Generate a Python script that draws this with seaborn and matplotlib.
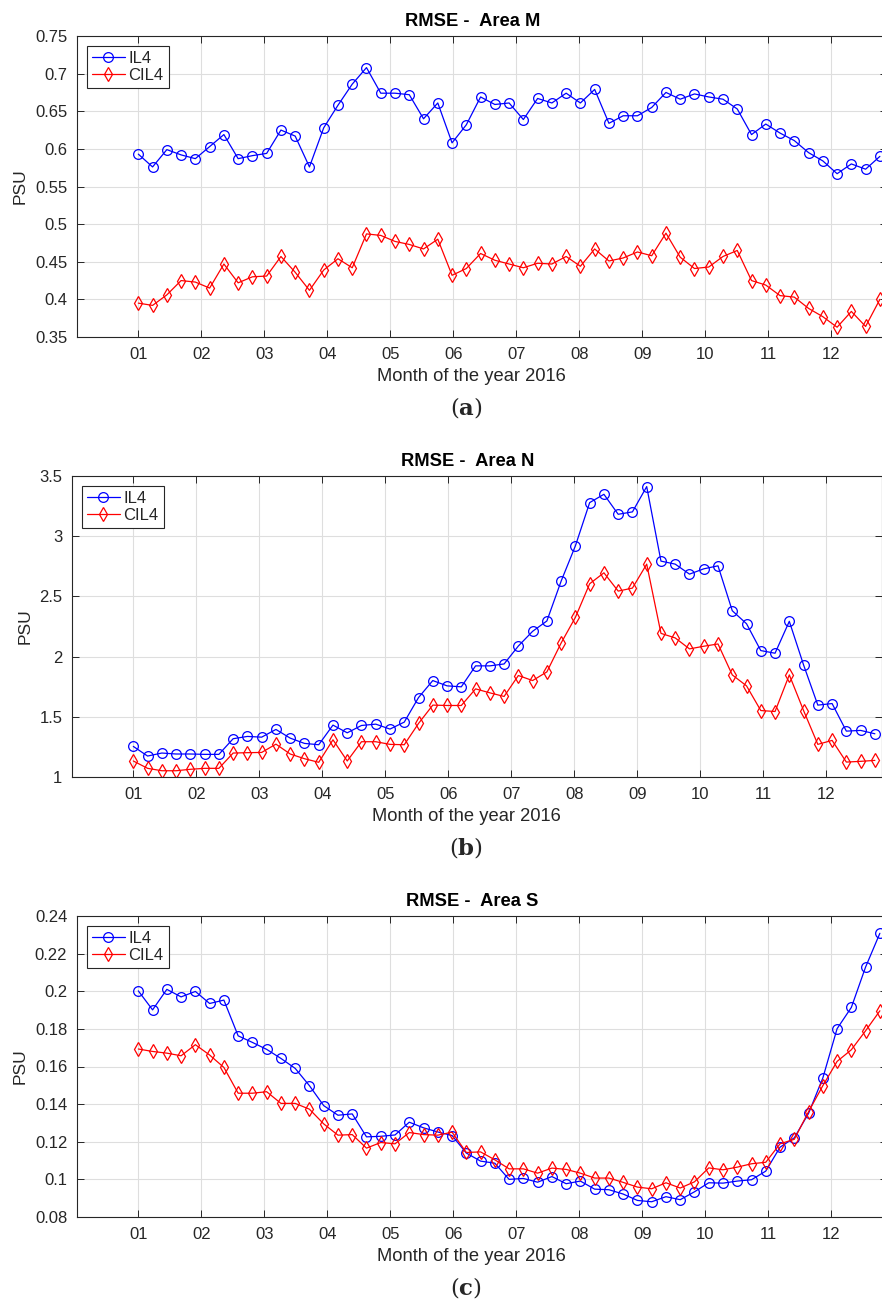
import numpy as np
import pandas as pd
import matplotlib
matplotlib.use("Agg")
import matplotlib.pyplot as plt
import seaborn as sns
from matplotlib.ticker import FuncFormatter

# weekly RMSE values, 2016 (53 weeks)
weeks = np.arange(1, 54)
month_labels = ["01", "02", "03", "04", "05", "06", "07", "08", "09", "10", "11", "12"]

m_il4 = [0.593, 0.576, 0.599, 0.592, 0.587, 0.603, 0.619, 0.587, 0.591, 0.594,
         0.625, 0.617, 0.576, 0.628, 0.658, 0.686, 0.708, 0.674, 0.674, 0.672,
         0.640, 0.661, 0.608, 0.632, 0.669, 0.659, 0.661, 0.639, 0.667, 0.661,
         0.674, 0.661, 0.679, 0.634, 0.644, 0.644, 0.655, 0.675, 0.666, 0.673,
         0.669, 0.666, 0.653, 0.619, 0.633, 0.621, 0.611, 0.595, 0.584, 0.567,
         0.580, 0.573, 0.590]
m_cil4 = [0.395, 0.392, 0.406, 0.425, 0.423, 0.415, 0.447, 0.422, 0.430, 0.431,
          0.457, 0.436, 0.412, 0.439, 0.454, 0.442, 0.487, 0.485, 0.477, 0.473,
          0.467, 0.480, 0.432, 0.441, 0.461, 0.452, 0.447, 0.442, 0.448, 0.447,
          0.457, 0.444, 0.467, 0.451, 0.455, 0.463, 0.458, 0.488, 0.456, 0.441,
          0.443, 0.457, 0.465, 0.425, 0.419, 0.405, 0.403, 0.388, 0.377, 0.363,
          0.384, 0.364, 0.400]

n_il4 = [1.254, 1.174, 1.199, 1.191, 1.191, 1.188, 1.188, 1.318, 1.337, 1.331,
         1.395, 1.323, 1.279, 1.268, 1.431, 1.367, 1.428, 1.439, 1.398, 1.456,
         1.660, 1.801, 1.757, 1.749, 1.923, 1.923, 1.939, 2.088, 2.210, 2.296,
         2.627, 2.920, 3.279, 3.348, 3.182, 3.202, 3.412, 2.793, 2.768, 2.685,
         2.729, 2.754, 2.381, 2.273, 2.050, 2.028, 2.293, 1.931, 1.597, 1.610,
         1.381, 1.387, 1.359]
n_cil4 = [1.133, 1.072, 1.052, 1.052, 1.064, 1.072, 1.072, 1.199, 1.202, 1.204,
          1.273, 1.191, 1.152, 1.122, 1.309, 1.133, 1.293, 1.293, 1.271, 1.268,
          1.445, 1.597, 1.594, 1.594, 1.732, 1.699, 1.669, 1.843, 1.801, 1.873,
          2.113, 2.326, 2.605, 2.696, 2.544, 2.569, 2.768, 2.193, 2.155, 2.064,
          2.086, 2.105, 1.848, 1.757, 1.552, 1.544, 1.848, 1.552, 1.271, 1.304,
          1.124, 1.130, 1.138]

s_il4 = [0.2002, 0.1901, 0.2010, 0.1970, 0.1999, 0.1935, 0.1953, 0.1763, 0.1728, 0.1691,
         0.1643, 0.1590, 0.1498, 0.1392, 0.1341, 0.1348, 0.1226, 0.1229, 0.1236, 0.1304,
         0.1274, 0.1252, 0.1233, 0.1140, 0.1097, 0.1086, 0.1000, 0.1005, 0.0985, 0.1015,
         0.0977, 0.0991, 0.0948, 0.0945, 0.0922, 0.0888, 0.0881, 0.0908, 0.0892, 0.0934,
         0.0982, 0.0980, 0.0991, 0.0998, 0.1044, 0.1171, 0.1221, 0.1351, 0.1539, 0.1801,
         0.1914, 0.2129, 0.2308]
s_cil4 = [0.1693, 0.1680, 0.1671, 0.1657, 0.1716, 0.1661, 0.1595, 0.1458, 0.1458, 0.1466,
          0.1404, 0.1404, 0.1373, 0.1295, 0.1235, 0.1238, 0.1166, 0.1196, 0.1189, 0.1249,
          0.1238, 0.1235, 0.1251, 0.1143, 0.1146, 0.1104, 0.1056, 0.1056, 0.1033, 0.1060,
          0.1053, 0.1033, 0.1007, 0.1007, 0.0984, 0.0959, 0.0950, 0.0982, 0.0954, 0.0987,
          0.1061, 0.1051, 0.1065, 0.1083, 0.1091, 0.1189, 0.1213, 0.1360, 0.1498, 0.1627,
          0.1689, 0.1790, 0.1896]

sns.set_style("ticks")
plt.rcParams['font.family'] = ['Liberation Sans', 'DejaVu Sans']
plt.rcParams['mathtext.fontset'] = 'dejavuserif'

W, H = 882, 1301
fig = plt.figure(figsize=(W / 100, H / 100), dpi=100)

# month ticks evenly spread over the 53 weeks
month_pos = 1 + np.arange(12) * 53 / 12
axis_col = "#262626"

panels = [
    dict(il4=m_il4, cil4=m_cil4, title="RMSE -  Area M", ylim=(0.35, 0.75), step=0.05,
         box=(77, 337), cap="a", cap_y=408),
    dict(il4=n_il4, cil4=n_cil4, title="RMSE -  Area N", ylim=(1, 3.5), step=0.5,
         box=(72, 777), cap="b", cap_y=848),
    dict(il4=s_il4, cil4=s_cil4, title="RMSE -  Area S", ylim=(0.08, 0.24), step=0.02,
         box=(77, 1217), cap="c", cap_y=1287),
]

for p in panels:
    left, bottom = p["box"]
    ax = fig.add_axes([left / W, 1 - bottom / H, 810 / W, 301 / H])
    df = pd.DataFrame({"week": weeks, "IL4": p["il4"], "CIL4": p["cil4"]})

    sns.lineplot(data=df, x="week", y="IL4", ax=ax, color="#0000ff", lw=0.9,
                 marker="o", markersize=7, markerfacecolor="none",
                 markeredgecolor="#0000ff", markeredgewidth=0.9, label="IL4")
    sns.lineplot(data=df, x="week", y="CIL4", ax=ax, color="#ff0000", lw=0.9,
                 marker="d", markersize=7.5, markerfacecolor="none",
                 markeredgecolor="#ff0000", markeredgewidth=0.9, label="CIL4")

    ax.set_xlim(-3.3, 53.5)
    ax.set_ylim(*p["ylim"])
    ax.set_xticks(month_pos)
    ax.set_xticklabels(month_labels)
    lo, hi = p["ylim"]
    ax.set_yticks(np.arange(lo, hi + p["step"] / 2, p["step"]))
    ax.yaxis.set_major_formatter(FuncFormatter(lambda v, pos: "%g" % round(v, 4)))

    ax.grid(True, color="#dedede", linewidth=0.8)
    ax.set_axisbelow(True)
    for s in ax.spines.values():
        s.set_visible(True)
        s.set_color(axis_col)
        s.set_linewidth(0.8)
    ax.tick_params(direction="in", length=5, width=0.7, color=axis_col,
                   labelcolor=axis_col, labelsize=12, top=True, right=True, pad=7)

    ax.set_xlabel("Month of the year 2016", fontsize=13.2, color=axis_col)
    ax.xaxis.set_label_coords(0.487, -0.103)
    ax.set_ylabel("PSU", fontsize=12.5, color=axis_col, labelpad=5)
    ax.set_title(p["title"], fontsize=13.2, fontweight="bold", color="black",
                 x=0.488, pad=7)

    leg = ax.legend(loc="upper left", bbox_to_anchor=(0.012, 0.968), fontsize=12,
                    frameon=True, fancybox=False, framealpha=1, edgecolor=axis_col,
                    handlelength=2.0, handletextpad=0.2, labelspacing=0.15,
                    borderpad=0.3, borderaxespad=0)
    leg.get_frame().set_linewidth(0.8)

    fig.text(466 / W, 1 - p["cap_y"] / H, "(" + r"$\mathbf{" + p["cap"] + "}$" + ")",
             ha="center", va="center", fontsize=16.5, family="DejaVu Serif")

fig.savefig("out.png", dpi=100)
